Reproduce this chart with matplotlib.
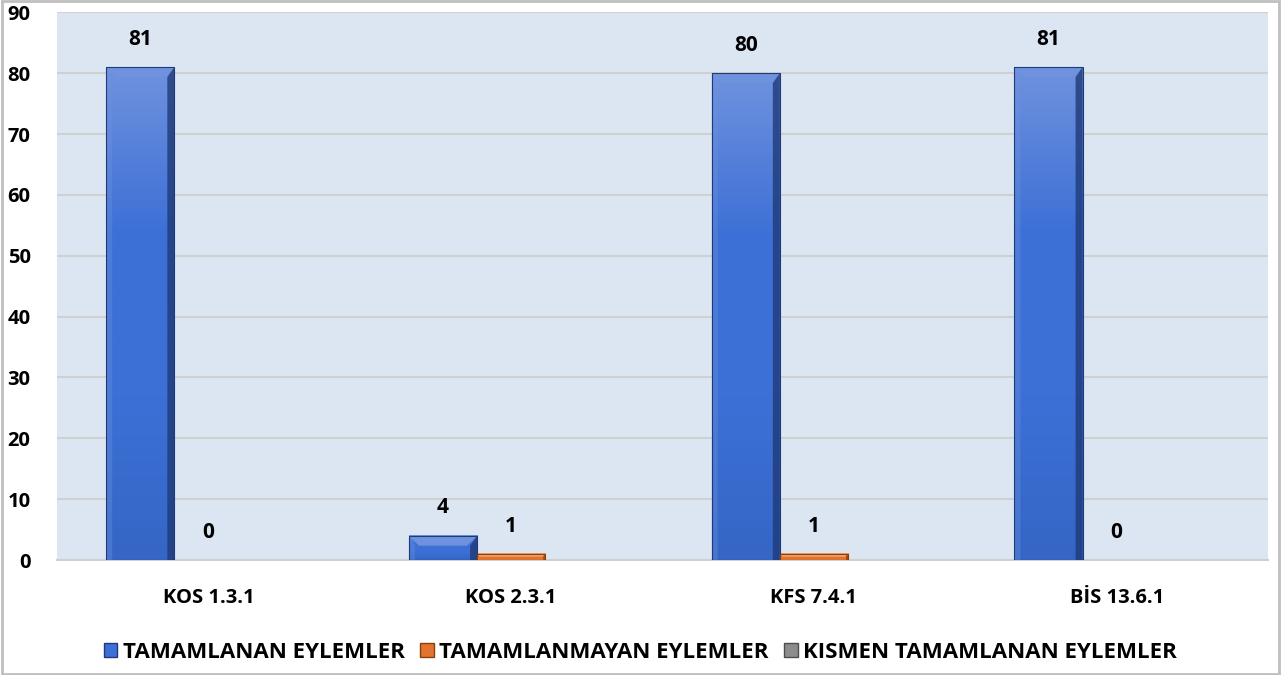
import matplotlib
matplotlib.use("Agg")
import matplotlib.pyplot as plt
import numpy as np
from matplotlib.patches import Polygon, Rectangle
from matplotlib.colors import LinearSegmentedColormap

categories = ["KOS 1.3.1", "KOS 2.3.1", "KFS 7.4.1", "BİS 13.6.1"]
series_names = ["TAMAMLANAN EYLEMLER", "TAMAMLANMAYAN EYLEMLER", "KISMEN TAMAMLANAN EYLEMLER"]
tamamlanan = [81, 4, 80, 81]
tamamlanmayan = [0, 1, 1, 0]
kismen = [0, 0, 0, 0]
yticks = [0, 10, 20, 30, 40, 50, 60, 70, 80, 90]

plt.rcParams['font.family'] = ['Open Sans', 'DejaVu Sans']
plt.rcParams['font.weight'] = 'bold'

W, H = 1281, 675
fig = plt.figure(figsize=(W / 100, H / 100), dpi=100)
ax = fig.add_axes([57 / W, 1 - 560 / H, (1268 - 57) / W, (560 - 12.3) / H])
ax.set_facecolor('#dce6f2')
ax.set_xlim(-0.5, len(categories) - 0.5)
ax.set_ylim(0, 90)

# colors: (base, light, dark)
styles = [
    ('#3d70d6', '#6f92de', '#1f3a78'),
    ('#e2742f', '#f3a56b', '#8a3f10'),
    ('#8c8c8c', '#bdbdbd', '#4d4d4d'),
]
data = [tamamlanan, tamamlanmayan, kismen]
width = 0.225
x = np.arange(len(categories))

fig.canvas.draw()
px_per_x = ax.transData.transform((1, 0))[0] - ax.transData.transform((0, 0))[0]
px_per_y = ax.transData.transform((0, 1))[1] - ax.transData.transform((0, 0))[1]

def bevel_bar(xc, h, base, light, dark):
    if h <= 0:
        return
    x0, x1 = xc - width / 2, xc + width / 2
    bpx = min(10.0, h * px_per_y / 2.2)
    bx = bpx / px_per_x
    by = bpx / px_per_y
    cmap = LinearSegmentedColormap.from_list('g', [light, base, base, '#3566c6' if base == '#3d70d6' else base])
    grad = np.linspace(0, 1, 256).reshape(-1, 1)
    ax.imshow(grad, cmap=cmap, extent=(x0, x1, 0, h), aspect='auto', zorder=3,
              interpolation='bilinear')
    ax.add_patch(Polygon([(x0, h), (x1, h), (x1 - bx, h - by), (x0 + bx, h - by)],
                         closed=True, facecolor=light, edgecolor='none', zorder=4))
    ax.add_patch(Polygon([(x0, h), (x0 + bx * 0.6, h - by), (x0 + bx * 0.6, 0), (x0, 0)],
                         closed=True, facecolor=light, edgecolor='none', alpha=0.35, zorder=4))
    ax.add_patch(Polygon([(x1, h), (x1 - bx * 0.7, h - by), (x1 - bx * 0.7, 0), (x1, 0)],
                         closed=True, facecolor=dark, edgecolor='none', alpha=0.8, zorder=4))
    ax.add_patch(Rectangle((x0, 0), width, h, facecolor='none', edgecolor=dark,
                           linewidth=0.8, zorder=5))

offsets = [-width, 0, width]
for si, (vals, st, off) in enumerate(zip(data, styles, offsets)):
    for xi, v in zip(x, vals):
        bevel_bar(xi + off, v, *st)
        if si < 2:
            ax.annotate(str(v), (xi + off, v), xytext=(0, 20), textcoords='offset points',
                        ha='center', va='center', fontsize=15, fontweight='bold',
                        color='black', zorder=6)

ax.set_yticks(yticks)
ax.yaxis.grid(True, color='#d0d0d0', linewidth=1.5, zorder=0)
ax.set_axisbelow(True)
ax.set_xticks(x)
ax.set_xticklabels(categories, fontsize=14.5, fontweight='bold')
ax.tick_params(axis='both', length=0, labelsize=14.5)
ax.tick_params(axis='x', pad=20)
ax.tick_params(axis='y', pad=19)
for lab in ax.get_yticklabels():
    lab.set_fontweight('bold')
for s in ['top', 'right', 'left']:
    ax.spines[s].set_visible(False)
ax.spines['bottom'].set_color('#d0d0d0')
ax.spines['bottom'].set_linewidth(1.5)

handles = [Rectangle((0, 0), 1, 1, facecolor=st[0], edgecolor=st[2], linewidth=1) for st in styles]
fig.legend(handles, series_names, loc='center', bbox_to_anchor=(0.5, 1 - 652 / H),
           ncol=3, frameon=False, handlelength=0.6, handleheight=0.6,
           handletextpad=0.25, columnspacing=0.7, prop={'weight': 'bold', 'size': 16})

fig.patches.append(Rectangle((0.0015, 0.002), 0.997, 0.996, transform=fig.transFigure,
                             facecolor='none', edgecolor='#bfbfbf', linewidth=2))

fig.savefig('out.png', dpi=100)
